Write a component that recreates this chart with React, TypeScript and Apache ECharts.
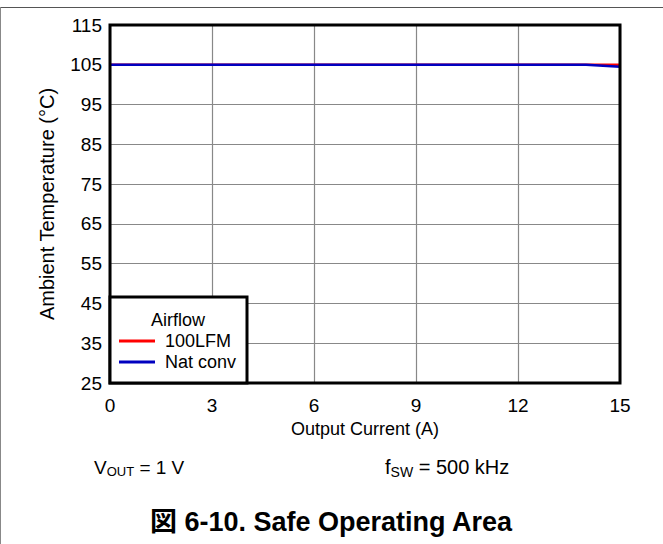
import React, { useEffect, useRef } from "react";
import * as echarts from "echarts";

const xTicks = [0, 3, 6, 9, 12, 15];
const currentA = [0, 3, 6, 9, 12, 14, 15];
const lfm100 = [105, 105, 105, 105, 105, 105, 105];
const natConv = [105, 105, 105, 105, 105, 105, 104.5];
const seriesNames = ["100LFM", "Nat conv"];
const seriesColors = ["#ff0000", "#0000c0"];

const FONT = "'Liberation Sans', Arial, 'Noto Sans CJK JP', sans-serif";

export default function App() {
  const ref = useRef<HTMLDivElement>(null);
  useEffect(() => {
    if (!ref.current) return;
    const chart = echarts.init(ref.current, undefined, { renderer: "svg" });
    const toPairs = (ys: number[]) => currentA.map((x, i) => [x, ys[i]]);
    const subV = {
      n: { fontSize: 19, color: "#000", fontFamily: FONT },
      s: { fontSize: 13, color: "#000", fontFamily: FONT, padding: [9, 0, 0, 0] },
    };
    const subF = {
      n: { fontSize: 20, color: "#000", fontFamily: FONT },
      s: { fontSize: 14, color: "#000", fontFamily: FONT, padding: [9, 0, 0, 0] },
    };
    chart.setOption({
      animation: false,
      backgroundColor: "#ffffff",
      textStyle: { fontFamily: FONT },
      grid: {
        left: 110,
        top: 25,
        right: 43,
        bottom: 161,
        show: true,
        borderColor: "#000",
        borderWidth: 3,
        z: 6,
      },
      xAxis: {
        type: "value",
        min: xTicks[0],
        max: xTicks[xTicks.length - 1],
        interval: 3,
        name: "Output Current (A)",
        nameLocation: "middle",
        nameGap: 31,
        nameTextStyle: { fontSize: 18, color: "#000", fontFamily: FONT },
        axisLine: { show: false },
        axisTick: { show: false },
        axisLabel: { fontSize: 19, color: "#000", margin: 13, fontFamily: FONT },
        splitLine: { show: true, lineStyle: { color: "#888", width: 1.2 } },
      },
      yAxis: {
        type: "value",
        min: 25,
        max: 115,
        interval: 10,
        name: "Ambient Temperature (°C)",
        nameLocation: "middle",
        nameGap: 53,
        nameTextStyle: { fontSize: 20, color: "#000", fontFamily: FONT },
        axisLine: { show: false },
        axisTick: { show: false },
        axisLabel: { fontSize: 19, color: "#000", margin: 8, fontFamily: FONT },
        splitLine: { show: true, lineStyle: { color: "#888", width: 1.2 } },
      },
      legend: {
        left: 119,
        top: 332,
        padding: 0,
        orient: "vertical",
        icon: "rect",
        itemWidth: 36,
        itemHeight: 3,
        itemGap: 3,
        z: 20,
        data: seriesNames,
        textStyle: { fontSize: 18, color: "#000", fontFamily: FONT, lineHeight: 18, padding: [0, 0, 0, 5] },
      },
      graphic: [
        { type: "line", shape: { x1: 0, y1: 7.5, x2: 663, y2: 7.5 }, style: { stroke: "#555", lineWidth: 1 } },
        { type: "line", shape: { x1: 0.5, y1: 7, x2: 0.5, y2: 544 }, style: { stroke: "#888", lineWidth: 1 } },
        {
          type: "rect",
          z: 10,
          shape: { x: 110, y: 297, width: 137, height: 86 },
          style: { fill: "#fff", stroke: "#000", lineWidth: 3 },
        },
        {
          type: "text",
          z: 21,
          x: 178,
          y: 320,
          style: { text: "Airflow", fontSize: 18, fill: "#000", fontFamily: FONT, align: "center", verticalAlign: "middle" },
        },
        {
          type: "text",
          x: 94,
          y: 467,
          style: {
            text: "{n|V}{s|OUT}{n| = 1 V}",
            fontFamily: FONT,
            verticalAlign: "middle",
            rich: subV,
          },
        },
        {
          type: "text",
          x: 385,
          y: 467,
          style: {
            text: "{n|f}{s|SW}{n| = 500 kHz}",
            fontFamily: FONT,
            verticalAlign: "middle",
            rich: subF,
          },
        },
        {
          type: "text",
          x: 331,
          y: 522,
          style: {
            text: "図 6-10. Safe Operating Area",
            fontSize: 27,
            fontWeight: "bold",
            fill: "#000",
            fontFamily: FONT,
            align: "center",
            verticalAlign: "middle",
          },
        },
      ],
      series: [
        {
          name: seriesNames[0],
          type: "line",
          data: toPairs(lfm100),
          showSymbol: false,
          lineStyle: { color: seriesColors[0], width: 2.5 },
          itemStyle: { color: seriesColors[0] },
          z: 3,
        },
        {
          name: seriesNames[1],
          type: "line",
          data: toPairs(natConv),
          showSymbol: false,
          lineStyle: { color: seriesColors[1], width: 2.5 },
          itemStyle: { color: seriesColors[1] },
          z: 4,
        },
      ],
    });
    return () => chart.dispose();
  }, []);
  return (
    <div
      ref={ref}
      style={{ position: "absolute", left: 0, top: 0, width: 663, height: 544 }}
    />
  );
}
